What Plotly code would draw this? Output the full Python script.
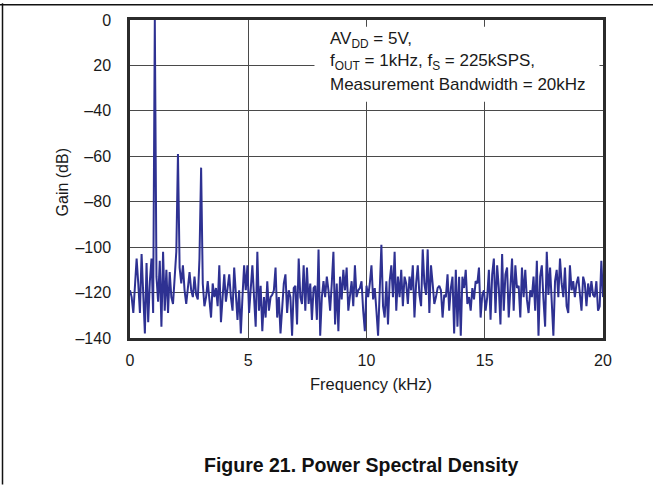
import numpy as np
import plotly.graph_objects as go

# Gain (dB), left (0 kHz) to right (20 kHz), evenly spaced
gain_a = [-119, -122, -129, -115, -105, -116, -129, -103, -119, -138,
          -107, -133, -115, -105, -129, 0, -113, -124, -106, -135,
          -102, -128, -110, -129, -111, -122, -125, -115, -102, -59,
          -109, -116, -108, -119, -125, -118, -111, -119, -122, -113,
          -121, -123, -105, -65, -116, -126, -122, -115, -122, -131,
          -116, -122, -118, -126, -108, -133, -122, -112, -124, -118,
          -112, -122, -128, -109, -122, -132, -119, -138, -122, -108]
gain_b = [-119, -108, -129, -116, -108, -122, -135, -102, -128, -117,
          -137, -122, -131, -115, -128, -122, -121, -119, -109, -131,
          -122, -138, -128, -116, -112, -129, -119, -122, -139, -118,
          -117, -134, -105, -122, -125, -108, -128, -109, -125, -116,
          -132, -118, -117, -132, -101, -139, -122, -115, -122, -113,
          -119, -128, -116, -102, -134, -116, -137, -113, -123, -110,
          -119, -109, -128, -121, -115, -126, -108, -122, -119, -118]
gain_c = [-115, -128, -137, -117, -122, -116, -108, -123, -118, -128,
          -139, -119, -99, -126, -131, -115, -134, -115, -108, -122,
          -102, -128, -113, -122, -110, -126, -113, -116, -125, -113,
          -119, -108, -131, -116, -108, -121, -126, -101, -116, -121,
          -101, -129, -108, -116, -125, -122, -118, -117, -119, -131,
          -121, -122, -112, -128, -118, -113, -138, -110, -135, -113,
          -139, -113, -118, -110, -125, -122, -128, -118, -123, -115]
gain_d = [-116, -109, -131, -121, -119, -128, -122, -110, -132, -112,
          -105, -129, -108, -118, -134, -103, -128, -112, -109, -131,
          -116, -105, -128, -108, -118, -117, -131, -109, -122, -110,
          -123, -129, -119, -122, -113, -128, -106, -139, -113, -108,
          -123, -135, -102, -121, -109, -126, -139, -115, -110, -122,
          -105, -116, -122, -109, -126, -129, -108, -119, -115, -122,
          -116, -113, -122, -128, -113, -116, -126, -116, -122, -115,
          -121, -122, -115, -128, -126, -106, -122]

gain_db = gain_a + gain_b + gain_c + gain_d
freq_khz = np.linspace(0, 20, len(gain_db))

x_ticks = [0, 5, 10, 15, 20]
y_ticks = [0, -20, -40, -60, -80, -100, -120, -140]
y_tick_text = ["0", "20", "\u201340", "\u201360", "\u201380", "\u2013100", "\u2013120", "\u2013140"]

FONT = "Liberation Sans, Arial, Helvetica, sans-serif"
INK = "#1a1a1a"

fig = go.Figure()
fig.add_trace(go.Scatter(x=freq_khz, y=gain_db, mode="lines",
                         line=dict(color="#2E3192", width=2), hoverinfo="skip"))

axis_common = dict(showgrid=True, gridcolor="#4a4a4a", gridwidth=1,
                   showline=True, linecolor="#2b2b2b", linewidth=2.5, mirror=True,
                   zeroline=False, ticks="", tickfont=dict(family=FONT, size=16, color=INK))

fig.update_xaxes(range=[0, 20], tickvals=x_ticks, ticklabelstandoff=6, **axis_common)
fig.update_yaxes(range=[-140, 0], tickvals=y_ticks, ticktext=y_tick_text,
                 ticklabelstandoff=13, **axis_common)

fig.update_layout(
    width=653, height=486,
    margin=dict(l=130, r=50, t=17, b=148),
    plot_bgcolor="white", paper_bgcolor="white",
    showlegend=False,
    font=dict(family=FONT, color=INK),
)

# white box behind the note (covers the grid lines there)
fig.add_shape(type="rect", xref="x", yref="y", x0=7.8, x1=19.85, y0=-36, y1=-3,
              fillcolor="white", line=dict(width=0), layer="above")


def px(xp):
    return (xp - 130) / 473


def py(yp):
    return (338 - yp) / 321


note_lines = ["AV<sub>DD</sub> = 5V,",
              "f<sub>OUT</sub> = 1kHz, f<sub>S</sub> = 225kSPS,",
              "Measurement Bandwidth = 20kHz"]
for i, t in enumerate(note_lines):
    fig.add_annotation(x=px(328), y=py(37 + 22.5 * i), xref="paper", yref="paper",
                       xanchor="left", yanchor="middle",
                       text=t, showarrow=False, font=dict(family=FONT, size=17, color=INK))

fig.add_annotation(x=px(62), y=py(181), xref="paper", yref="paper",
                   xanchor="center", yanchor="middle",
                   text="Gain (dB)", textangle=-90, showarrow=False,
                   font=dict(family=FONT, size=16, color=INK))
fig.add_annotation(x=px(371), y=py(384), xref="paper", yref="paper",
                   xanchor="center", yanchor="middle",
                   text="Frequency (kHz)", showarrow=False,
                   font=dict(family=FONT, size=16.5, color=INK))
fig.add_annotation(x=px(361), y=py(466), xref="paper", yref="paper",
                   xanchor="center", yanchor="middle",
                   text="<b>Figure 21. Power Spectral Density</b>", showarrow=False,
                   font=dict(family=FONT, size=19.5, color="#111111"))

# outer page border lines (top and left)
fig.add_shape(type="line", xref="paper", yref="paper",
              x0=px(0), x1=px(653), y0=py(1.5), y1=py(1.5),
              line=dict(color="#111111", width=1.5))
fig.add_shape(type="line", xref="paper", yref="paper",
              x0=px(2.5), x1=px(2.5), y0=py(0), y1=py(486),
              line=dict(color="#111111", width=1.5))

fig.write_html("out.html", config={"displayModeBar": False},
               post_script="document.body.style.margin='0';document.body.style.overflow='hidden';")
